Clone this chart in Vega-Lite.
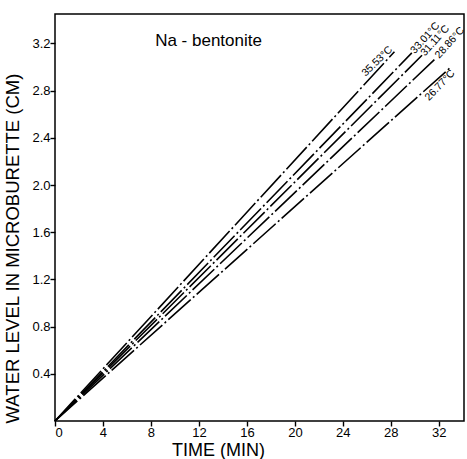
{
  "$schema": "https://vega.github.io/schema/vega-lite/v6.json",
  "width": 409,
  "height": 407,
  "autosize": "none",
  "padding": {"left": 55, "top": 14, "right": 3, "bottom": 38},
  "background": "white",
  "config": {
    "view": {"stroke": "black", "strokeWidth": 1.5},
    "font": "Liberation Sans",
    "axis": {
      "grid": false,
      "domain": false,
      "tickColor": "black",
      "tickSize": 5,
      "tickWidth": 1.4,
      "labelColor": "black",
      "labelFont": "Liberation Sans",
      "labelFontSize": 13,
      "titleColor": "black",
      "titleFont": "Liberation Sans",
      "titleFontWeight": "normal"
    }
  },
  "datasets": {
    "lines": [
      {"series": "35.53°C", "t": 0, "level": 0},
      {"series": "35.53°C", "t": 28.3, "level": 3.13},
      {"series": "33.01°C", "t": 0, "level": 0},
      {"series": "33.01°C", "t": 29.75, "level": 3.12},
      {"series": "31.11°C", "t": 0, "level": 0},
      {"series": "31.11°C", "t": 30.6, "level": 3.1},
      {"series": "28.86°C", "t": 0, "level": 0},
      {"series": "28.86°C", "t": 31.8, "level": 3.08},
      {"series": "26.77°C", "t": 0, "level": 0},
      {"series": "26.77°C", "t": 32.9, "level": 2.99}
    ],
    "labels": [
      {"label": "35.53°C", "t": 28.3, "level": 3.13, "pos": "above"},
      {"label": "33.01°C", "t": 29.75, "level": 3.12, "pos": "end"},
      {"label": "31.11°C", "t": 30.6, "level": 3.1, "pos": "end"},
      {"label": "28.86°C", "t": 31.8, "level": 3.08, "pos": "end"},
      {"label": "26.77°C", "t": 32.9, "level": 2.99, "pos": "below"}
    ],
    "title": [
      {"text": "Na - bentonite", "t": 12.8, "level": 3.22}
    ]
  },
  "layer": [
    {
      "data": {"name": "lines"},
      "mark": {"type": "line", "color": "black", "strokeWidth": 1.6, "strokeDash": [30, 3, 2, 3]},
      "encoding": {
        "x": {
          "field": "t", "type": "quantitative",
          "scale": {"domain": [0, 34.1], "nice": false},
          "axis": {"values": [0, 4, 8, 12, 16, 20, 24, 28, 32], "title": "TIME     (MIN)", "titleFontSize": 18, "labelPadding": 0, "titlePadding": 2, "titleX": 163, "titleAlign": "center"}
        },
        "y": {
          "field": "level", "type": "quantitative",
          "scale": {"domain": [0, 3.45], "nice": false},
          "axis": {"values": [0.4, 0.8, 1.2, 1.6, 2.0, 2.4, 2.8, 3.2], "format": ".1f", "title": "WATER LEVEL IN MICROBURETTE  (CM)", "titleFontSize": 18.5, "labelPadding": 0, "titlePadding": 9, "titleY": 234}
        },
        "detail": {"field": "series"}
      }
    },
    {
      "data": {"name": "labels"},
      "transform": [{"filter": "datum.pos === 'above'"}],
      "mark": {"type": "text", "align": "right", "baseline": "bottom", "angle": -44, "fontSize": 10.5, "font": "Liberation Sans", "color": "black"},
      "encoding": {
        "x": {"field": "t", "type": "quantitative"},
        "y": {"field": "level", "type": "quantitative"},
        "text": {"field": "label"}
      }
    },
    {
      "data": {"name": "labels"},
      "transform": [{"filter": "datum.pos === 'end'"}],
      "mark": {"type": "text", "align": "left", "baseline": "middle", "angle": -48, "dx": 1, "fontSize": 10.5, "font": "Liberation Sans", "color": "black"},
      "encoding": {
        "x": {"field": "t", "type": "quantitative"},
        "y": {"field": "level", "type": "quantitative"},
        "text": {"field": "label"}
      }
    },
    {
      "data": {"name": "labels"},
      "transform": [{"filter": "datum.pos === 'below'"}],
      "mark": {"type": "text", "align": "right", "baseline": "top", "angle": -46, "fontSize": 10.5, "font": "Liberation Sans", "color": "black"},
      "encoding": {
        "x": {"field": "t", "type": "quantitative"},
        "y": {"field": "level", "type": "quantitative"},
        "text": {"field": "label"}
      }
    },
    {
      "data": {"name": "title"},
      "mark": {"type": "text", "align": "center", "baseline": "middle", "fontSize": 17, "font": "Liberation Sans", "color": "black"},
      "encoding": {
        "x": {"field": "t", "type": "quantitative"},
        "y": {"field": "level", "type": "quantitative"},
        "text": {"field": "text"}
      }
    }
  ]
}
